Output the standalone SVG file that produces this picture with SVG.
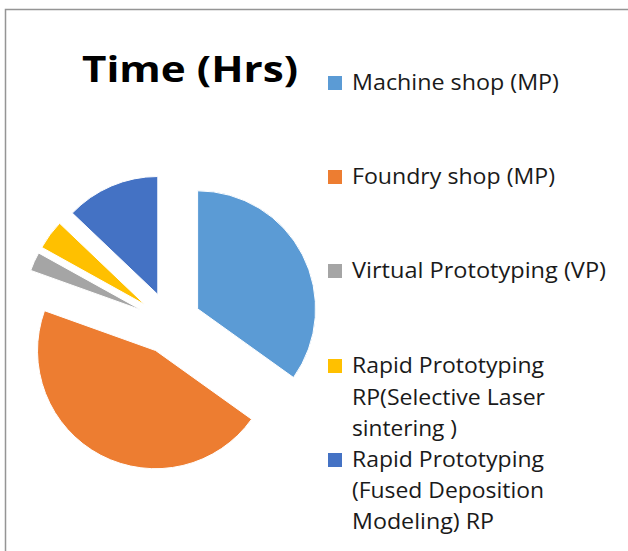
<svg xmlns="http://www.w3.org/2000/svg" width="628" height="551" viewBox="0 0 628 551">
<style>
.title{font-family:"Open Sans","Liberation Sans",sans-serif;font-weight:bold;font-size:35px;fill:#000}
.lg{font-family:"Open Sans","Liberation Sans",sans-serif;font-size:21.5px;fill:#1a1a1a}
.sl{stroke:#fff;stroke-width:1}
</style>
<rect width="628" height="551" fill="#fff"/>
<rect x="5.5" y="9.5" width="640" height="560" fill="none" stroke="#959595" stroke-width="1.5"/>
<text class="title" x="82" y="82" textLength="216" lengthAdjust="spacingAndGlyphs">Time (Hrs)</text>
<g id="pie">
<g id="slice-machine"><path class="sl" fill="#5B9BD5" d="M197.6,308.8 L197.6,190.8 A118,118 0 0 1 293.5,377.5 Z"/></g>
<g id="slice-foundry"><path class="sl" fill="#ED7D31" d="M155.6,350.5 L251.6,419.2 A118,118 0 0 1 44.5,310.7 Z"/></g>
<g id="slice-vp"><path class="sl" fill="#A5A5A5" d="M141.8,310.2 L30.7,270.4 A118,118 0 0 1 38.6,253.0 Z"/></g>
<g id="slice-sls"><path class="sl" fill="#FFC000" d="M145.0,304.7 L41.8,247.4 A118,118 0 0 1 59.6,223.3 Z"/></g>
<g id="slice-fdm"><path class="sl" fill="#4472C4" d="M157.8,294.5 L72.3,213.1 A118,118 0 0 1 157.8,176.5 Z"/></g>
</g>
<g id="legend">
<g id="lg-machine"><rect x="328" y="76" width="14" height="14" fill="#5B9BD5"/><text class="lg" x="352" y="90" textLength="207" lengthAdjust="spacingAndGlyphs">Machine shop (MP)</text></g>
<g id="lg-foundry"><rect x="328" y="170" width="14" height="14" fill="#ED7D31"/><text class="lg" x="352" y="184" textLength="203" lengthAdjust="spacingAndGlyphs">Foundry shop (MP)</text></g>
<g id="lg-vp"><rect x="328" y="264" width="14" height="14" fill="#A5A5A5"/><text class="lg" x="352" y="278" textLength="254" lengthAdjust="spacingAndGlyphs">Virtual Prototyping (VP)</text></g>
<g id="lg-sls"><rect x="328" y="359" width="14" height="14" fill="#FFC000"/>
<text class="lg" x="352" y="373" textLength="192" lengthAdjust="spacingAndGlyphs">Rapid Prototyping</text>
<text class="lg" x="352" y="405" textLength="193" lengthAdjust="spacingAndGlyphs">RP(Selective Laser</text>
<text class="lg" x="352" y="436" textLength="105" lengthAdjust="spacingAndGlyphs">sintering )</text></g>
<g id="lg-fdm"><rect x="328" y="453" width="14" height="14" fill="#4472C4"/>
<text class="lg" x="352" y="467" textLength="192" lengthAdjust="spacingAndGlyphs">Rapid Prototyping</text>
<text class="lg" x="352" y="498" textLength="192" lengthAdjust="spacingAndGlyphs">(Fused Deposition</text>
<text class="lg" x="352" y="529" textLength="142" lengthAdjust="spacingAndGlyphs">Modeling) RP</text></g>
</g>
</svg>
